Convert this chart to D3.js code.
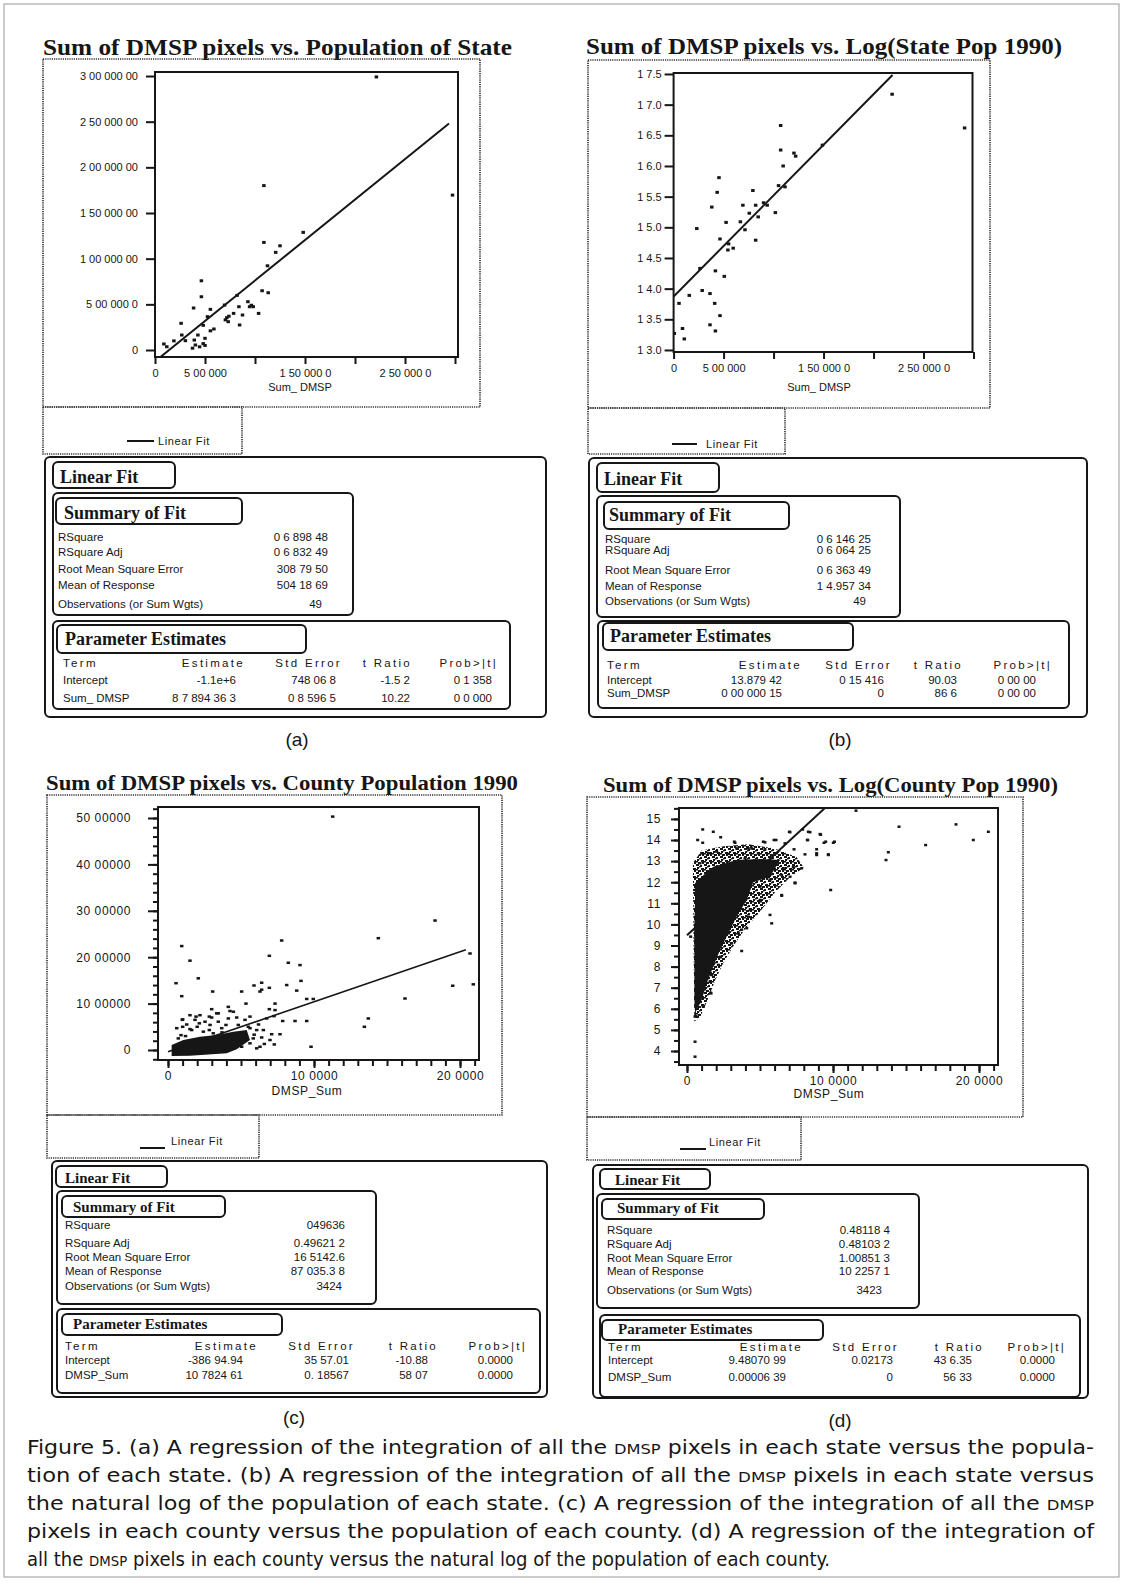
<!DOCTYPE html>
<html>
<head>
<meta charset="utf-8">
<script src="https://cdn.jsdelivr.net/npm/d3@7"></script>
<style>
body { margin: 0; background: #fff; }
svg text { fill: #161616; }
</style>
</head>
<body>
<svg id="fig" width="1123" height="1583"></svg>
<script>
// ---- values ----
// (a) state: Sum_DMSP vs state population
var pointsA = [[2.214e6,2.99e6],[2.975e6,1.696e6],[1.089e6,1.80e6],[1.482e6,1.288e6],[1.089e6,1.178e6],[1.207e6,1.069e6],
  [1.25e6,1.141e6],[1.125e6,0.922e6],[1.071e6,0.649e6],[1.132e6,0.627e6],[1.036e6,0.401e6],[0.464e6,0.758e6],[0.464e6,0.583e6],
  [0.386e6,0.46e6],[0.261e6,0.292e6],[0.554e6,0.445e6],[0.696e6,0.492e6],[0.821e6,0.598e6],[0.718e6,0.354e6],[0.732e6,0.31e6],
  [0.786e6,0.401e6],[0.839e6,0.474e6],[0.875e6,0.383e6],[0.846e6,0.274e6],[0.929e6,0.529e6],[0.946e6,0.474e6],[0.982e6,0.474e6],
  [0.589e6,0.23e6],[0.554e6,0.21e6],[0.5e6,0.128e6],[0.525e6,0.365e6],[0.482e6,0.27e6],[0.429e6,0.164e6],[0.393e6,0.109e6],
  [0.404e6,0.055e6],[0.446e6,0.035e6],[0.482e6,0.07e6],[0.304e6,0.102e6],[0.189e6,0.10e6],[0.089e6,0.066e6],[0.118e6,0.036e6],
  [0.268e6,0.164e6],[0.375e6,0.02e6],[0.5e6,0.05e6],[0.704e6,0.33e6],[0.739e6,0.37e6],[0.964e6,0.49e6]]
var fitA = [-125000, 0.886, 0, 2.94e6]   // intercept, slope, x from, x to
var yTicksA = [0, 5e5, 1e6, 1.5e6, 2e6, 2.5e6, 3e6]
var yLabelsA = ['0', '5 00 000 0', '1 00 000 00', '1 50 000 00', '2 00 000 00', '2 50 000 00', '3 00 000 00']
var xTicksAB = [0, 5e5, 1e6, 1.5e6, 2e6, 2.5e6, 3e6]
var xLabelsAB = ['0', '5 00 000', '', '1 50 000 0', '', '2 50 000 0', '']

// (b) state: Sum_DMSP vs log(state pop)
var pointsB = [[2.186e6,17.17],[2.911e6,16.62],[1.071e6,16.66],[1.071e6,16.26],[1.096e6,16.0],[1.204e6,16.21],[1.221e6,16.16],
  [1.489e6,16.34],[1.05e6,15.68],[1.114e6,15.66],[1.018e6,15.24],[0.9e6,15.40],[0.936e6,15.36],[0.793e6,15.6],[0.821e6,15.36],
  [0.757e6,15.23],[0.693e6,15.36],[0.668e6,15.09],[0.714e6,14.96],[0.821e6,14.79],[0.846e6,15.17],[0.454e6,15.81],[0.436e6,15.57],
  [0.382e6,15.33],[0.525e6,15.08],[0.464e6,14.81],[0.55e6,14.73],[0.596e6,14.66],[0.543e6,14.63],[0.232e6,14.98],[0.264e6,14.33],
  [0.418e6,14.29],[0.507e6,14.2],[0.286e6,13.97],[0.364e6,13.92],[0.157e6,13.89],[0.411e6,13.76],[0.054e6,13.76],[0.464e6,13.56],
  [0.364e6,13.41],[0.418e6,13.31],[0.089e6,13.35],[0.107e6,13.18],[0.007e6,13.27]]
var fitB = [13.87, 1.65e-6, 0, 2.19e6]
var yTicksB = [13, 13.5, 14, 14.5, 15, 15.5, 16, 16.5, 17, 17.5]
var yLabelsB = ['1 3.0', '1 3.5', '1 4.0', '1 4.5', '1 5.0', '1 5.5', '1 6.0', '1 6.5', '1 7.0', '1 7.5']

// (c) county: DMSP_Sum vs county population
var pointsC = [[940,2.24e6],[1505,1.925e6],[550,1.44e6],[940,1.16e6],[2075,1.545e6],[3060,1.26e6],[5045,1.26e6],[7785,2.36e6],
  [6940,2.03e6],[8240,1.88e6],[9040,1.83e6],[9110,1.49e6],[6415,1.45e6],[5890,1.39e6],[6940,1.34e6],[6415,1.3e6],[8130,1.40e6],
  [8815,1.28e6],[14405,2.41e6],[9500,1.10e6],[9950,1.10e6],[5340,1.0e6],[7330,1.0e6],[6940,0.88e6],[2990,0.88e6],[4130,0.93e6],
  [13720,0.68e6],[13450,0.50e6],[9500,0.625e6],[8700,0.625e6],[7855,0.625e6],[7260,0.73e6],[7670,0.34e6],[7100,0.34e6],
  [7280,0.12e6],[9795,0.07e6],[6300,0.07e6],[6415,0.27e6],[5840,0.25e6],[5615,0.72e6],[4705,0.70e6],[4245,0.84e6],[3445,0.79e6],
  [2830,0.72e6],[1920,0.72e6],[1005,0.66e6],[1005,0.50e6],[1505,0.45e6],[2145,0.575e6],[3445,0.61e6],[2830,0.43e6],[3970,0.54e6],
  [4815,0.54e6],[5615,0.47e6],[890,0.32e6],[4930,0.345e6],[6760,0.68e6],[11280,5.03e6],[18290,2.79e6],[20685,2.08e6],
  [19500,1.385e6],[20910,1.415e6],[16230,1.11e6],[6300,1.26e6],[7330,0.86e6],
  [3335,0.79e6],[980,0.65e6],[1280,0.55e6],[1620,0.43e6],[2000,0.5e6],[2420,0.395e6],[2880,0.54e6],[3680,0.47e6],[4130,0.68e6],
  [4475,0.825e6],[5275,0.65e6],[5500,0.5e6],[6075,0.43e6],[6530,0.43e6],[6985,0.215e6],[5615,0.144e6],[6075,0.036e6],
  [5045,0.07e6],[1850,0.65e6],[2190,0.75e6],[600,0.47e6],[705,0.25e6],[4705,0.36e6],[4020,0.30e6],[2535,0.61e6],[1505,0.75e6],
  [2990,0.70e6],[5900,0.33e6],[6600,0.13e6],[3700,0.38e6],[3100,0.36e6],[1200,0.30e6],[5200,0.25e6],[6200,0.55e6]]
var coreC = [[250,-129000],[250,108000],[1050,215000],[2190,287000],[3335,323000],[4475,395000],[5390,430000],[5615,215000],
  [4705,14000],[4020,-72000],[1505,-122000]]
var fitC = [-38694.94, 107.8246, 0, 20400]
var yTicksC = [0, 1e6, 2e6, 3e6, 4e6, 5e6]
var yLabelsC = ['0', '10 00000', '20 00000', '30 00000', '40 00000', '50 00000']
var xTicksCD = [0, 10000, 20000]
var xLabelsCD = ['0', '10 0000', '20 0000']

// (d) county: DMSP_Sum vs log(county pop)
var pointsD = [[11575,15.39],[14520,14.63],[18425,14.74],[20640,14.39],[19610,14.0],[16345,13.76],[13790,13.42],[13630,13.05],
  [9840,11.63],[10100,13.92],[9500,13.92],[9110,14.28],[8310,14.39],[7920,14.5],[7010,14.39],[9680,13.29],[8880,13.29],
  [8880,13.56],[8270,14.0],[7850,12.66],[7280,12.71],[7055,12.26],[7400,11.98],[6485,11.39],[5685,10.45],[5800,10.05],
  [3745,9.75],[3060,10.13],[2375,9.47],[1645,6.73],[1120,6.10],[550,5.63],[550,4.44],[550,3.73],[730,14.0],[1075,14.5],
  [1800,14.39],[2305,14.13],[1075,13.87],[3240,13.92],[3400,13.6],[5225,13.92],[5960,14.0],[5340,13.56],[4200,13.6],
  [7055,14.37],[8425,14.37],[9155,14.25],[8240,14.0],[9385,13.87],[10020,13.87],[8880,13.37],[9680,13.32],[5340,13.89],
  [6100,14.0],[6710,13.84],[7330,13.56],[8080,13.32],[6600,12.66],[6485,12.34],[7400,11.95],[6485,11.36],[4090,9.82],
  [3515,9.58],[3745,8.74],[2305,8.47],[2145,8.08],[1690,7.60],[1575,7.28],[1620,6.76],[1115,6.15],[615,5.66],[250,9.42],
  [550,11.63],[890,12.9],[1005,13.37],[1460,13.37],[2035,13.45],[2830,13.34],[3290,13.87],[4430,13.6],[4885,13.37],
  [5340,12.97],[6030,12.9],[3970,13.13],[5685,12.1],[5000,11.79],[5000,11.16],[4315,10.68],[4200,10.36],[3060,9.10],[2830,9.6]]
var coreD = [[550,5.79],[505,6.42],[505,7.21],[505,8.0],[490,9.58],[548,11.16],[548,11.95],[1005,12.26],[1800,12.73],
  [3400,13.05],[5000,13.1],[6370,13.05],[5685,12.26],[4540,12.0],[4090,11.16],[3400,10.37],[2830,9.58],[2260,8.79],
  [1800,8.0],[1350,7.21],[1005,6.42]]
var haloD = [[400,12.9],[1000,13.5],[2500,13.7],[4200,13.8],[6000,13.6],[7500,13.2],[8000,12.7],[7000,12.2],[6000,11.5],
  [5000,10.6],[4000,9.8],[3200,9.0],[2500,8.2],[1900,7.3],[1400,6.4],[900,5.6],[500,5.4]]
var fitD = [9.4807099, 0.000639, 0, 10000]
var yTicksD = [4, 5, 6, 7, 8, 9, 10, 11, 12, 13, 14, 15]
var yLabelsD = ['4', '5', '6', '7', '8', '9', '10', '11', '12', '13', '14', '15']

// fit report tables
var summaryLabels = ['RSquare', 'RSquare Adj', 'Root Mean Square Error', 'Mean of Response', 'Observations (or Sum Wgts)']
var summaryA = ['0 6 898 48', '0 6 832 49', '308 79 50', '504 18 69', '49']
var summaryB = ['0 6 146 25', '0 6 064 25', '0 6 363 49', '1 4.957 34', '49']
var summaryC = ['049636', '0.49621 2', '16 5142.6', '87 035.3 8', '3424']
var summaryD = ['0.48118 4', '0.48103 2', '1.00851 3', '10 2257 1', '3423']
var paramHeads = ['Term', 'Estimate', 'Std Error', 't Ratio', 'Prob>|t|']
var paramA = [['Intercept', '-1.1e+6', '748 06 8', '-1.5 2', '0 1 358'], ['Sum_ DMSP', '8 7 894 36 3', '0 8 596 5', '10.22', '0 0 000']]
var paramB = [['Intercept', '13.879 42', '0 15 416', '90.03', '0 00 00'], ['Sum_DMSP', '0 00 000 15', '0', '86 6', '0 00 00']]
var paramC = [['Intercept', '-386 94.94', '35 57.01', '-10.88', '0.0000'], ['DMSP_Sum', '10 7824 61', '0. 18567', '58 07', '0.0000']]
var paramD = [['Intercept', '9.48070 99', '0.02173', '43 6.35', '0.0000'], ['DMSP_Sum', '0.00006 39', '0', '56 33', '0.0000']]

var captionLines = [
  'Figure 5. (a) A regression of the integration of all the DMSP pixels in each state versus the popula-',
  'tion of each state. (b) A regression of the integration of all the DMSP pixels in each state versus',
  'the natural log of the population of each state. (c) A regression of the integration of all the DMSP',
  'pixels in each county versus the population of each county. (d) A regression of the integration of',
  'all the DMSP pixels in each county versus the natural log of the population of each county.'
]

// ---- drawing ----
var SANS = '"Liberation Sans", Arial, Helvetica, sans-serif'
var SERIF = '"Liberation Serif", "Times New Roman", serif'
var INK = '#161616'

var svg = d3.select('#fig')
var defs = svg.append('defs')
// irregular speckle tile for the crowded edge of the county cloud
var speck = defs.append('pattern').attr('id', 'speckD').attr('width', 8).attr('height', 8).attr('patternUnits', 'userSpaceOnUse')
;[[0,0,3,2],[4,1,2,2],[1,3,2,2],[5,4,3,2],[2,6,3,2],[6,6,2,2],[0,5,2,1.5],[3,2,1.5,1.5]].forEach(r => {
  speck.append('rect').attr('x', r[0]).attr('y', r[1]).attr('width', r[2]).attr('height', r[3]).attr('fill', INK)
})

svg.append('rect').attr('x', 4).attr('y', 4).attr('width', 1115).attr('height', 1573)
  .attr('fill', 'none').attr('stroke', '#999').attr('stroke-width', 1)

function box(g, b, rounded) {
  var r = g.append('rect').attr('x', b[0]).attr('y', b[1]).attr('width', b[2] - b[0]).attr('height', b[3] - b[1])
    .attr('fill', 'none')
  if (rounded) r.attr('rx', 5).attr('stroke', INK).attr('stroke-width', 2)
  else r.attr('stroke', '#333').attr('stroke-width', 1.7).attr('stroke-dasharray', '1.2,1')
  return r
}

function scatterPanel(p) {
  var g = svg.append('g')
  g.append('text').attr('x', p.title[1]).attr('y', p.title[2])
    .attr('textLength', p.title[3]).attr('lengthAdjust', 'spacingAndGlyphs')
    .style('font-family', SERIF).style('font-weight', 'bold').style('font-size', p.titleSize + 'px')
    .text(p.title[0])
  box(g, p.box)
  box(g, p.legBox)

  var f = p.frame
  var x = d3.scaleLinear().domain(p.xDomain).range([f[0], f[2]])
  var y = d3.scaleLinear().domain(p.yDomain).range([f[3], f[1]])

  g.append('clipPath').attr('id', 'clip' + p.id)
    .append('rect').attr('x', f[0]).attr('y', f[1]).attr('width', f[2] - f[0]).attr('height', f[3] - f[1])
  var plot = g.append('g').attr('clip-path', 'url(#clip' + p.id + ')')
  var outline = d3.line().x(d => x(d[0])).y(d => y(d[1])).curve(d3.curveLinearClosed)
  if (p.halo) plot.append('path').attr('d', outline(p.halo)).attr('fill', 'url(#' + p.haloFill + ')')
  if (p.core) plot.append('path').attr('d', outline(p.core)).attr('fill', INK)

  plot.selectAll('rect.pt').data(p.points).join('rect')
    .attr('class', 'pt')
    .attr('x', d => x(d[0]) - p.mark[0] / 2)
    .attr('y', d => y(d[1]) - p.mark[1] / 2)
    .attr('width', p.mark[0]).attr('height', p.mark[1])
    .attr('fill', INK)

  var fit = p.fit
  plot.append('line')
    .attr('x1', x(fit[2])).attr('y1', y(fit[0] + fit[1] * fit[2]))
    .attr('x2', x(fit[3])).attr('y2', y(fit[0] + fit[1] * fit[3]))
    .attr('stroke', INK).attr('stroke-width', p.fitWidth)

  g.append('rect').attr('x', f[0]).attr('y', f[1]).attr('width', f[2] - f[0]).attr('height', f[3] - f[1])
    .attr('fill', 'none').attr('stroke', INK).attr('stroke-width', 2)

  // minor ticks first so major ones sit on top
  if (p.yMinor) {
    g.append('g').attr('transform', 'translate(' + f[0] + ',0)')
      .call(d3.axisLeft(y).tickValues(p.yMinor).tickSize(5).tickFormat(''))
      .call(a => a.select('.domain').remove())
      .selectAll('line').attr('stroke', INK).attr('stroke-width', 2)
  }
  if (p.xMinor) {
    g.append('g').attr('transform', 'translate(0,' + f[3] + ')')
      .call(d3.axisBottom(x).tickValues(p.xMinor).tickSize(6).tickFormat(''))
      .call(a => a.select('.domain').remove())
      .selectAll('line').attr('stroke', INK).attr('stroke-width', 2)
  }

  var gy = g.append('g').attr('transform', 'translate(' + f[0] + ',0)')
    .call(d3.axisLeft(y).tickValues(p.yTicks).tickFormat((d, i) => p.yLabels[i])
      .tickSize(p.yTick[0]).tickPadding(p.yTick[1]))
  var gx = g.append('g').attr('transform', 'translate(0,' + f[3] + ')')
    .call(d3.axisBottom(x).tickValues(p.xTicks).tickFormat((d, i) => p.xLabels[i])
      .tickSize(p.xTick[0]).tickPadding(p.xTick[1]))
  ;[gy, gx].forEach(a => {
    a.select('.domain').remove()
    a.selectAll('line').attr('stroke', INK).attr('stroke-width', 2)
    a.selectAll('text').style('font-family', SANS).style('font-size', p.tickFont + 'px')
      .style('letter-spacing', p.tickSpacing + 'px').attr('fill', INK)
  })

  g.append('text').attr('x', p.xLabel[1]).attr('y', p.xLabel[2]).attr('text-anchor', 'middle')
    .style('font-family', SANS).style('font-size', p.tickFont + 'px').style('letter-spacing', p.tickSpacing + 'px')
    .text(p.xLabel[0])

  var L = p.legend
  g.append('line').attr('x1', L[0]).attr('x2', L[1]).attr('y1', L[2]).attr('y2', L[2])
    .attr('stroke', INK).attr('stroke-width', 2)
  g.append('text').attr('x', L[3]).attr('y', L[4])
    .style('font-family', SANS).style('font-size', '11px').style('letter-spacing', '0.6px')
    .text('Linear Fit')
}

function statsPanel(s) {
  var g = svg.append('g')
  box(g, s.outer, true)
  var heads = [[s.lf, s.lfText, 'Linear Fit'], [s.sumTitle, s.sumText, 'Summary of Fit'], [s.parTitle, s.parText, 'Parameter Estimates']]
  box(g, s.sumBox, true)
  box(g, s.parBox, true)
  heads.forEach(h => {
    box(g, h[0], true)
    g.append('text').attr('x', h[1][0]).attr('y', h[1][1])
      .style('font-family', SERIF).style('font-weight', 'bold').style('font-size', s.headSize + 'px')
      .text(h[2])
  })
  var small = sel => sel.style('font-family', SANS).style('font-size', '11.5px')
  summaryLabels.forEach((lab, i) => {
    small(g.append('text').attr('x', s.labelX).attr('y', s.rowsY[i]).text(lab))
    small(g.append('text').attr('x', s.valRight[i]).attr('y', s.rowsY[i]).attr('text-anchor', 'end').text(s.summary[i]))
  })
  paramHeads.forEach((h, j) => {
    var t = g.append('text').attr('y', s.headY).style('letter-spacing', '2.3px').text(h)
    if (j == 0) t.attr('x', s.termX)
    else t.attr('x', s.headRight[j - 1]).attr('text-anchor', 'end')
    small(t)
  })
  s.params.forEach((row, r) => {
    row.forEach((v, j) => {
      var t = g.append('text').attr('y', s.paramY[r]).text(v)
      if (j == 0) t.attr('x', s.termX)
      else t.attr('x', s.valRight2[j - 1]).attr('text-anchor', 'end')
      small(t)
    })
  })
  g.append('text').attr('x', s.tag[1]).attr('y', s.tag[2]).attr('text-anchor', 'middle')
    .style('font-family', SANS).style('font-size', '19px').text(s.tag[0])
}

scatterPanel({
  id: 'A', title: ['Sum of DMSP pixels vs. Population of State', 43, 55, 469], titleSize: 23,
  box: [43, 59, 480, 407], legBox: [43, 407, 242, 454], frame: [155, 72, 458, 357],
  xDomain: [0, 3.03e6], yDomain: [-76600, 3.044e6],
  points: pointsA, mark: [3.5, 3], fit: fitA, fitWidth: 2,
  yTicks: yTicksA, yLabels: yLabelsA, yTick: [9, 8], xTicks: xTicksAB, xLabels: xLabelsAB, xTick: [7, 5],
  tickFont: 11, tickSpacing: 0, xLabel: ['Sum_ DMSP', 300, 391], legend: [127, 154, 441, 158, 445]
})
scatterPanel({
  id: 'B', title: ['Sum of DMSP pixels vs. Log(State Pop 1990)', 586, 54, 476], titleSize: 23,
  box: [588, 60, 990, 408], legBox: [588, 408, 785, 454], frame: [673.6, 73, 972.5, 352],
  xDomain: [0, 2.99e6], yDomain: [12.967, 17.516],
  points: pointsB, mark: [3.5, 3], fit: fitB, fitWidth: 2,
  yTicks: yTicksB, yLabels: yLabelsB, yTick: [9, 3], xTicks: xTicksAB, xLabels: xLabelsAB, xTick: [7, 5],
  tickFont: 11, tickSpacing: 0, xLabel: ['Sum_ DMSP', 819, 391], legend: [672, 697, 444, 706, 448]
})
scatterPanel({
  id: 'C', title: ['Sum of DMSP pixels vs. County Population 1990', 46, 790, 472], titleSize: 22,
  box: [47, 795, 502, 1115], legBox: [47, 1115, 259, 1158], frame: [158, 807, 479, 1060],
  xDomain: [-685, 21300], yDomain: [-215500, 5.237e6],
  points: pointsC, core: coreC, mark: [3.5, 2.5], fit: fitC, fitWidth: 1.6,
  yTicks: yTicksC, yLabels: yLabelsC, yTick: [10, 17], xTicks: xTicksCD, xLabels: xLabelsCD, xTick: [8, 3],
  yMinor: d3.range(-200000, 5200001, 200000), xMinor: d3.range(0, 21001, 1000),
  tickFont: 12, tickSpacing: 0.6, xLabel: ['DMSP_Sum', 307, 1095], legend: [140, 165, 1148, 171, 1145]
})
scatterPanel({
  id: 'D', title: ['Sum of DMSP pixels vs. Log(County Pop 1990)', 603, 792, 455], titleSize: 22,
  box: [587, 797, 1023, 1117], legBox: [587, 1117, 801, 1160], frame: [679, 808, 998, 1065],
  xDomain: [-548, 21300], yDomain: [3.336, 15.517],
  points: pointsD, core: coreD, halo: haloD, haloFill: 'speckD', mark: [3, 2.5], fit: fitD, fitWidth: 2,
  yTicks: yTicksD, yLabels: yLabelsD, yTick: [8, 10], xTicks: xTicksCD, xLabels: xLabelsCD, xTick: [8, 3],
  yMinor: d3.range(3.5, 15.51, 0.5), xMinor: d3.range(0, 21001, 1000),
  tickFont: 12, tickSpacing: 0.6, xLabel: ['DMSP_Sum', 829, 1098], legend: [680, 706, 1149, 709, 1146]
})

statsPanel({
  outer: [45, 457, 546, 717], headSize: 18,
  lf: [53, 462, 175, 488], lfText: [60, 483],
  sumBox: [53, 493, 353, 615], sumTitle: [56, 498, 242, 524], sumText: [64, 519],
  rowsY: [541, 556, 573, 589, 608], labelX: 58, valRight: [328, 328, 328, 328, 322], summary: summaryA,
  parBox: [53, 621, 510, 709], parTitle: [57, 625, 306, 653], parText: [65, 645],
  headY: 667, termX: 63, headRight: [245, 342, 412, 498], paramY: [684, 702], valRight2: [236, 336, 410, 492], params: paramA,
  tag: ['(a)', 297, 746]
})
statsPanel({
  outer: [589, 458, 1087, 717], headSize: 18,
  lf: [597, 463, 719, 492], lfText: [604, 485],
  sumBox: [597, 496, 900, 617], sumTitle: [604, 502, 789, 529], sumText: [609, 521],
  rowsY: [543, 554, 574, 590, 605], labelX: 605, valRight: [871, 871, 871, 871, 866], summary: summaryB,
  parBox: [598, 621, 1069, 708], parTitle: [603, 623, 853, 650], parText: [610, 642],
  headY: 669, termX: 607, headRight: [802, 892, 963, 1052], paramY: [684, 697], valRight2: [782, 884, 957, 1036], params: paramB,
  tag: ['(b)', 840, 746]
})
statsPanel({
  outer: [52, 1161, 547, 1397], headSize: 15,
  lf: [56, 1166, 167, 1187], lfText: [65, 1183],
  sumBox: [57, 1191, 376, 1304], sumTitle: [62, 1196, 225, 1217], sumText: [73, 1212],
  rowsY: [1229, 1247, 1261, 1275, 1290], labelX: 65, valRight: [345, 345, 345, 345, 342], summary: summaryC,
  parBox: [57, 1309, 540, 1393], parTitle: [62, 1314, 282, 1335], parText: [73, 1329],
  headY: 1350, termX: 65, headRight: [258, 355, 438, 527], paramY: [1364, 1379], valRight2: [243, 349, 428, 513], params: paramC,
  tag: ['(c)', 294, 1424]
})
statsPanel({
  outer: [593, 1165, 1088, 1398], headSize: 15,
  lf: [600, 1169, 710, 1189], lfText: [615, 1185],
  sumBox: [597, 1194, 919, 1308], sumTitle: [602, 1199, 764, 1219], sumText: [617, 1213],
  rowsY: [1234, 1248, 1262, 1275, 1294], labelX: 607, valRight: [890, 890, 890, 890, 882], summary: summaryD,
  parBox: [600, 1315, 1080, 1397], parTitle: [602, 1320, 823, 1340], parText: [618, 1334],
  headY: 1351, termX: 608, headRight: [803, 899, 984, 1066], paramY: [1364, 1381], valRight2: [786, 893, 972, 1055], params: paramD,
  tag: ['(d)', 840, 1427]
})

// caption, DMSP set in small caps
var capY = [1454, 1482, 1510, 1538, 1566]
var capLen = [1067, 1067, 1067, 1067, 803]
captionLines.forEach((line, i) => {
  var t = svg.append('text').attr('x', 27).attr('y', capY[i])
    .attr('textLength', capLen[i]).attr('lengthAdjust', 'spacingAndGlyphs')
    .style('font-family', '"DejaVu Sans Condensed", "Liberation Sans Narrow", "Liberation Sans", sans-serif')
    .style('font-stretch', 'condensed').style('font-size', '19px')
  line.split('DMSP').forEach((part, k) => {
    if (k > 0) t.append('tspan').style('font-size', '14px').text('DMSP')
    t.append('tspan').text(part)
  })
})
</script>
</body>
</html>
